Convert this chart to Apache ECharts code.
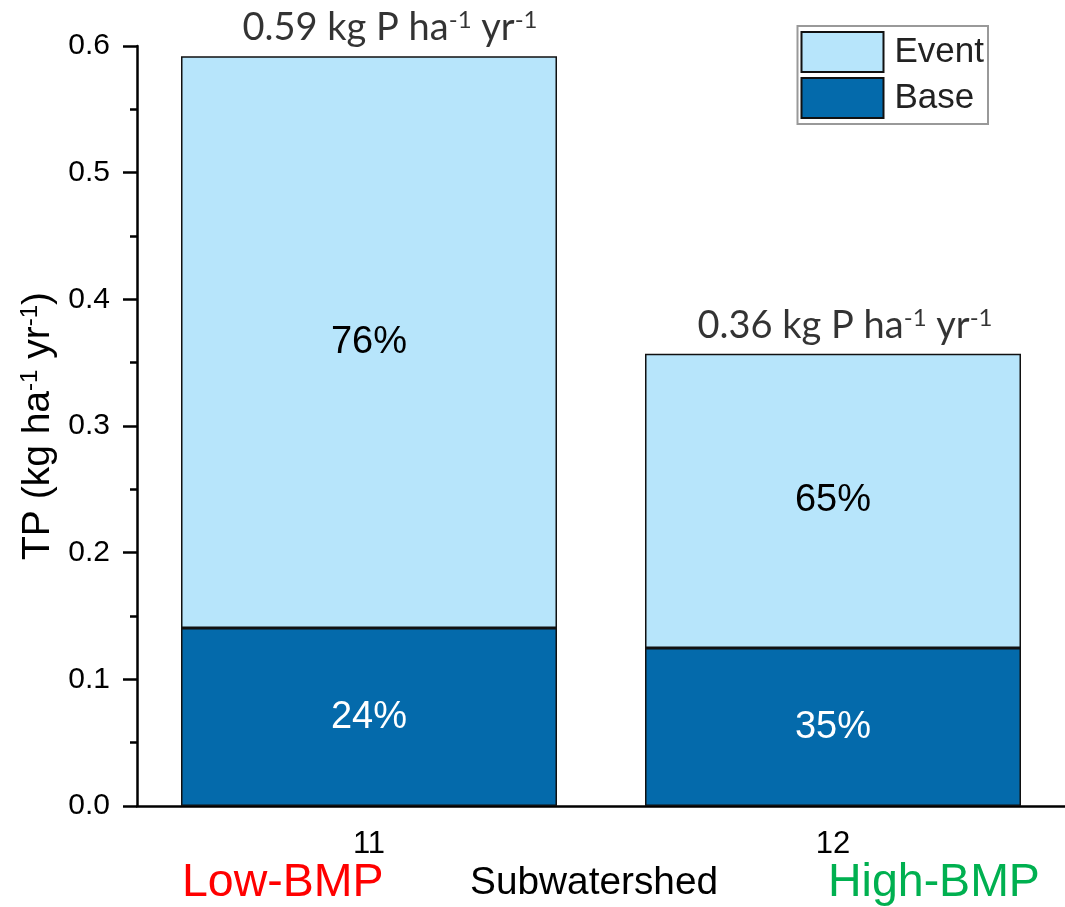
<!DOCTYPE html>
<html>
<head>
<meta charset="utf-8">
<script src="https://cdn.jsdelivr.net/npm/echarts@6/dist/echarts.min.js"></script>
<style>html,body{margin:0;padding:0;background:#fff;}#c{width:1065px;height:907px;}</style>
</head>
<body>
<div id="c"></div>
<script>
const categories = ['11', '12'];
const baseValues = [0.1405, 0.1247];
const eventValues = [0.4515, 0.2323];
const basePct = ['24%', '35%'];
const eventPct = ['76%', '65%'];
const totalLabels = ['0.59', '0.36'];
const yTicks = [0, 0.1, 0.2, 0.3, 0.4, 0.5, 0.6];

// label placement (style), not data
const totalLabelShift = [21, 12];

const ARIAL = '"Liberation Sans", Arial, sans-serif';
const CAL = 'Lato, "Open Sans", sans-serif';
const totals = baseValues.map((b, i) => b + eventValues[i]);

const chart = echarts.init(document.getElementById('c'));
chart.setOption({
  animation: false,
  backgroundColor: '#fff',
  grid: { left: 137, right: -12, top: 46, bottom: 101, containLabel: false },
  legend: {
    data: ['Event', 'Base'],
    orient: 'vertical',
    right: 77, top: 26,
    icon: 'rect',
    itemWidth: 82, itemHeight: 40, itemGap: 4,
    padding: [5, 4, 5, 3],
    borderColor: '#999', borderWidth: 2,
    textStyle: { fontFamily: ARIAL, fontSize: 35, color: '#222', padding: [0, 0, 0, 6] }
  },
  xAxis: [{
    type: 'category', data: categories,
    axisLine: { lineStyle: { color: '#000', width: 2.5 } },
    axisTick: { alignWithLabel: true, length: 13, lineStyle: { color: '#000', width: 2.5 } },
    axisLabel: { fontFamily: ARIAL, fontSize: 31, color: '#000', margin: 23 }
  }, {
    type: 'category', data: categories, position: 'bottom',
    axisLine: { show: false },
    axisTick: { length: 6, lineStyle: { color: '#000', width: 2.5 } },
    axisLabel: { show: false }
  }],
  yAxis: {
    type: 'value', min: 0, max: 0.6, interval: 0.1,
    name: 'TP (kg ha{sup|-1} yr{sup|-1})',
    nameLocation: 'middle', nameGap: 79, nameRotate: 90,
    nameTextStyle: {
      fontFamily: ARIAL, fontSize: 39, color: '#000',
      rich: { sup: { fontFamily: ARIAL, fontSize: 24, color: '#000', padding: [0, 0, 16, 0] } }
    },
    axisLine: { show: true, lineStyle: { color: '#000', width: 2.5 } },
    axisTick: { show: true, length: 14, lineStyle: { color: '#000', width: 2.5 } },
    minorTick: { show: true, splitNumber: 2, length: 7, lineStyle: { color: '#000', width: 2.5 } },
    splitLine: { show: false },
    axisLabel: {
      fontFamily: ARIAL, fontSize: 30, color: '#000', margin: 27,
      formatter: v => { const t = yTicks.find(x => Math.abs(x - v) < 1e-9); return (t !== undefined ? t : v).toFixed(1); }
    }
  },
  series: [{
    name: 'Base', type: 'bar', stack: 'tp', data: baseValues, barWidth: 376,
    itemStyle: { color: '#046AAB', borderColor: '#111', borderWidth: 1.5 },
    label: { show: true, position: 'inside', fontFamily: ARIAL, fontSize: 38, color: '#fff',
      formatter: p => basePct[p.dataIndex] }
  }, {
    name: 'Event', type: 'bar', stack: 'tp', data: eventValues, barWidth: 376,
    itemStyle: { color: '#B7E5FB', borderColor: '#111', borderWidth: 1.5 },
    label: { show: true, position: 'inside', fontFamily: ARIAL, fontSize: 38, color: '#000',
      formatter: p => eventPct[p.dataIndex] }
  }, {
    name: 'Total', type: 'scatter', symbolSize: 0, silent: true,
    data: totals.map((v, i) => ({ value: v, label: { offset: [totalLabelShift[i], 0] } })),
    label: {
      show: true, position: 'top', distance: 8,
      fontFamily: CAL, fontSize: 38, color: '#000',
      formatter: p => totalLabels[p.dataIndex] + ' kg P ha{sup|-1} yr{sup|-1}',
      rich: { sup: { fontFamily: CAL, fontSize: 24, color: '#000', padding: [0, 0, 16, 0] } }
    }
  }],
  graphic: [
    { type: 'text', left: 182, top: 860, style: { text: 'Low-BMP', fontFamily: ARIAL, fontSize: 46.5, fill: '#FF0000' } },
    { type: 'text', left: 470, top: 864, style: { text: 'Subwatershed', fontFamily: ARIAL, fontSize: 38.8, fill: '#000' } },
    { type: 'text', left: 828, top: 860, style: { text: 'High-BMP', fontFamily: ARIAL, fontSize: 46.5, fill: '#00B050' } }
  ]
});
</script>
</body>
</html>
